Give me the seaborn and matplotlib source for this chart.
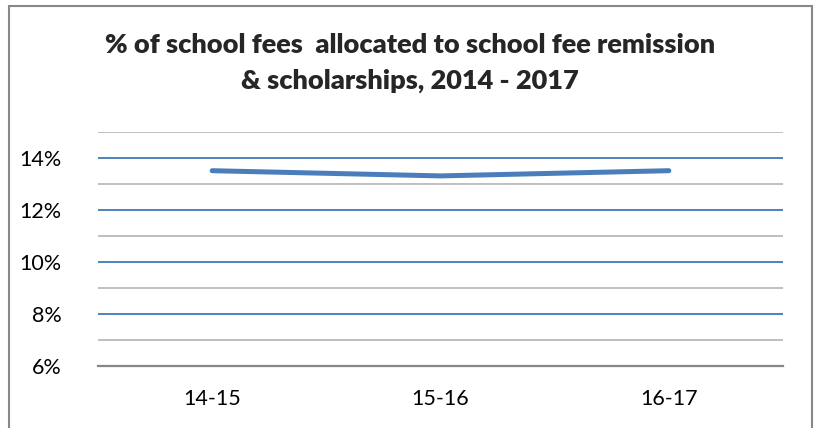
import matplotlib
matplotlib.use("Agg")
import matplotlib.pyplot as plt
import seaborn as sns
import pandas as pd
from matplotlib.patches import Rectangle
from matplotlib.ticker import MultipleLocator, FuncFormatter

years = ["14-15", "15-16", "16-17"]
pct = [0.135, 0.133, 0.135]
title = "% of school fees  allocated to school fee remission\n& scholarships, 2014 - 2017"

sns.set_style("white")
plt.rcParams["font.family"] = ["Lato", "DejaVu Sans"]

fig = plt.figure(figsize=(8.19, 4.28), dpi=100)
ax = fig.add_axes([98 / 819, (428 - 365.7) / 428, (783 - 98) / 819, (365.7 - 131.7) / 428])

df = pd.DataFrame({"year": years, "pct": pct})
sns.lineplot(data=df, x="year", y="pct", ax=ax, color="#4A7EBB", linewidth=3.6,
             solid_capstyle="round", sort=False)

ax.set_xlim(-0.5, 2.5)
ax.set_ylim(0.06, 0.15)
ax.yaxis.set_major_locator(MultipleLocator(0.02))
ax.yaxis.set_minor_locator(MultipleLocator(0.01))
ax.yaxis.set_major_formatter(FuncFormatter(lambda v, p: f"{v*100:.0f}%"))
ax.grid(which="major", axis="y", color="#4F81BD", linewidth=1.4)
ax.grid(which="minor", axis="y", color="#BFBFBF", linewidth=1.4)
ax.set_axisbelow(True)
for s in ["top", "right", "left"]:
    ax.spines[s].set_visible(False)
ax.spines["bottom"].set_color("#868686")
ax.spines["bottom"].set_linewidth(1.6)
ax.tick_params(axis="both", which="both", length=0, labelsize=15.5, colors="black")
ax.tick_params(axis="y", pad=26)
ax.tick_params(axis="x", pad=17)
ax.set_xlabel("")
ax.set_ylabel("")

fig.text(410 / 819, (428 - 63) / 428, title, ha="center", va="center",
         fontsize=19.5, fontweight="heavy", linespacing=1.55)

fig.add_artist(Rectangle((9.3 / 819, -0.1), (811.7 - 9.3) / 819, (428 - 6) / 428 + 0.1,
                         transform=fig.transFigure, fill=False, edgecolor="#888888",
                         linewidth=1.5))

fig.savefig("out.png", dpi=100)
